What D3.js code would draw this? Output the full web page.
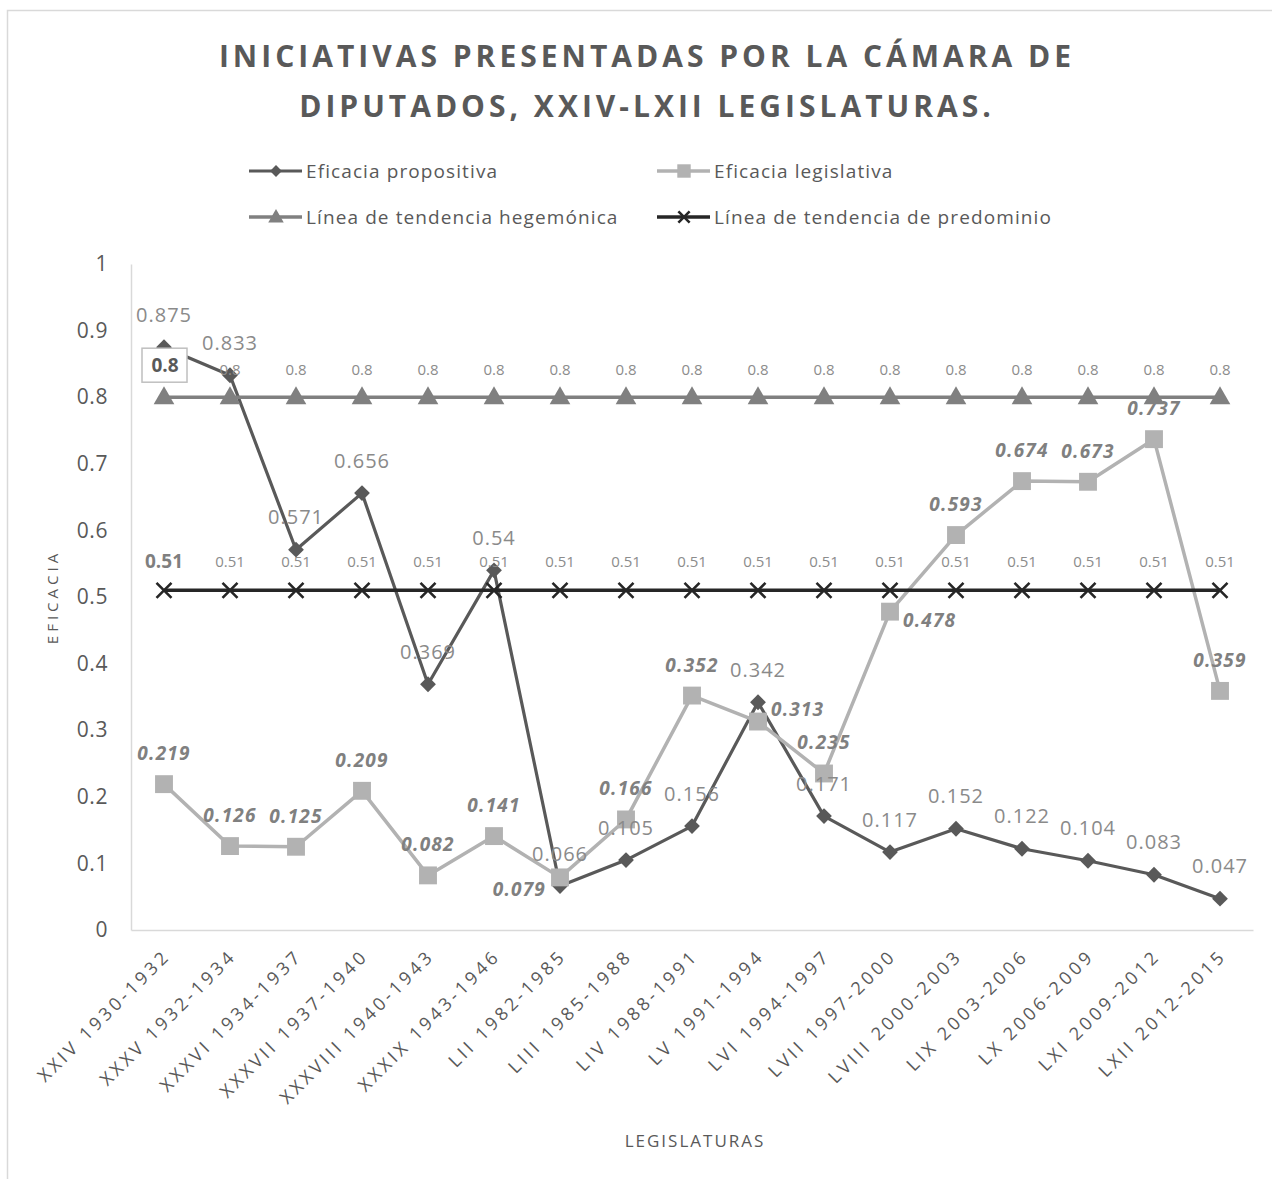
<!DOCTYPE html>
<html>
<head>
<meta charset="utf-8">
<script src="https://cdn.jsdelivr.net/npm/d3@7"></script>
<style>
  body { margin: 0; background: #fff; }
  text { font-family: "Open Sans", sans-serif; }
</style>
</head>
<body>
<div id="chart"></div>
<script>
// data
var categories = ["XXIV 1930-1932", "XXXV 1932-1934", "XXXVI 1934-1937", "XXXVII 1937-1940",
  "XXXVIII 1940-1943", "XXXIX 1943-1946", "LII 1982-1985", "LIII 1985-1988", "LIV 1988-1991",
  "LV 1991-1994", "LVI 1994-1997", "LVII 1997-2000", "LVIII 2000-2003", "LIX 2003-2006",
  "LX 2006-2009", "LXI 2009-2012", "LXII 2012-2015"];
var propositiva = [0.875, 0.833, 0.571, 0.656, 0.369, 0.54, 0.066, 0.105, 0.156, 0.342,
  0.171, 0.117, 0.152, 0.122, 0.104, 0.083, 0.047];
var legislativa = [0.219, 0.126, 0.125, 0.209, 0.082, 0.141, 0.079, 0.166, 0.352, 0.313,
  0.235, 0.478, 0.593, 0.674, 0.673, 0.737, 0.359];
var hegemonica = [0.8, 0.8, 0.8, 0.8, 0.8, 0.8, 0.8, 0.8, 0.8, 0.8, 0.8, 0.8, 0.8, 0.8, 0.8, 0.8, 0.8];
var predominio = [0.51, 0.51, 0.51, 0.51, 0.51, 0.51, 0.51, 0.51, 0.51, 0.51, 0.51, 0.51, 0.51, 0.51, 0.51, 0.51, 0.51];
var yTicks = [0, 0.1, 0.2, 0.3, 0.4, 0.5, 0.6, 0.7, 0.8, 0.9, 1];
var seriesNames = ["Eficacia propositiva", "Eficacia legislativa",
  "Línea de tendencia hegemónica", "Línea de tendencia de predominio"];
var titleLines = ["INICIATIVAS PRESENTADAS POR LA CÁMARA DE", "DIPUTADOS, XXIV-LXII LEGISLATURAS."];

var W = 1272, H = 1179;
var plotLeft = 131, plotRight = 1253, plotTop = 264, plotBottom = 930;

var svg = d3.select("#chart").append("svg")
    .attr("width", W).attr("height", H);

// outer chart border
svg.append("rect")
    .attr("x", 7.5).attr("y", 10.5)
    .attr("width", W + 20).attr("height", H + 20)
    .attr("fill", "#fff").attr("stroke", "#d9d9d9").attr("stroke-width", 1.5);

var x = d3.scalePoint().domain(categories).range([plotLeft, plotRight]).padding(0.5);
var y = d3.scaleLinear().domain([0, 1]).range([plotBottom, plotTop]);

// title
svg.selectAll(".title").data(titleLines).enter().append("text")
    .attr("class", "title")
    .attr("x", 647).attr("y", function(d, i) { return 67 + i * 50; })
    .attr("text-anchor", "middle")
    .attr("font-size", 30).attr("font-weight", "bold")
    .attr("letter-spacing", 4)
    .attr("fill", "#595959")
    .text(function(d) { return d; });

// y axis
var yAxis = svg.append("g")
    .attr("transform", "translate(" + plotLeft + ",0)")
    .call(d3.axisLeft(y).tickValues(yTicks).tickSize(0).tickPadding(23)
      .tickFormat(function(d) { return String(+d.toFixed(1)); }));
yAxis.select(".domain").attr("stroke", "#d9d9d9").attr("stroke-width", 1.5);
yAxis.selectAll("text").attr("font-size", 21).attr("letter-spacing", 0.6)
    .attr("fill", "#595959").attr("font-family", "Open Sans");

// x axis
var xAxis = svg.append("g")
    .attr("transform", "translate(0," + plotBottom + ")")
    .call(d3.axisBottom(x).tickSize(0));
xAxis.select(".domain").attr("stroke", "#d9d9d9").attr("stroke-width", 1.5);
xAxis.selectAll("text")
    .attr("font-size", 18).attr("letter-spacing", 3.5)
    .attr("fill", "#595959").attr("font-family", "Open Sans")
    .attr("text-anchor", "end")
    .attr("dy", null).attr("y", null)
    .attr("dominant-baseline", "central")
    .attr("transform", "translate(2,22) rotate(-45)");

// axis titles
svg.append("text")
    .attr("transform", "translate(52,597) rotate(-90)")
    .attr("text-anchor", "middle").attr("dominant-baseline", "central")
    .attr("font-size", 15).attr("letter-spacing", 4)
    .attr("fill", "#595959").text("EFICACIA");
svg.append("text")
    .attr("x", 695).attr("y", 1140)
    .attr("text-anchor", "middle").attr("dominant-baseline", "central")
    .attr("font-size", 17).attr("letter-spacing", 2)
    .attr("fill", "#595959").text("LEGISLATURAS");

// markers
var diamond = d3.symbol().type(d3.symbolSquare);
var square = d3.symbol().type(d3.symbolSquare);
var triangle = d3.symbol().type(d3.symbolTriangle);
function xMark(r) {
  return "M" + (-r) + "," + (-r) + "L" + r + "," + r + "M" + (-r) + "," + r + "L" + r + "," + (-r);
}

var line = d3.line()
    .x(function(d, i) { return x(categories[i]); })
    .y(function(d) { return y(d); });

var series = [
  { values: propositiva, color: "#595959", width: 3.2, marker: "diamond" },
  { values: legislativa, color: "#b2b2b2", width: 3.5, marker: "square" },
  { values: hegemonica, color: "#808080", width: 3.5, marker: "triangle" },
  { values: predominio, color: "#262626", width: 3.5, marker: "x" }
];

function drawMarker(g, s, scale) {
  scale = scale || 1;
  if (s.marker === "diamond") {
    g.append("path").attr("d", diamond.size(125 * scale * scale)).attr("transform", "rotate(45)").attr("fill", s.color);
  } else if (s.marker === "square") {
    g.append("path").attr("d", square.size(320 * scale * scale)).attr("fill", s.color);
  } else if (s.marker === "triangle") {
    g.append("path").attr("d", triangle.size(185 * scale * scale)).attr("transform", "translate(0,1)").attr("fill", s.color);
  } else {
    g.append("path").attr("d", xMark(7.5 * scale)).attr("stroke", s.color)
      .attr("stroke-width", 2.6).attr("fill", "none");
  }
}

series.forEach(function(s) {
  svg.append("path")
      .datum(s.values)
      .attr("d", line)
      .attr("fill", "none")
      .attr("stroke", s.color)
      .attr("stroke-width", s.width)
      .attr("stroke-linejoin", "round");
  svg.selectAll(null)
      .data(s.values)
      .enter().append("g")
      .attr("transform", function(d, i) { return "translate(" + x(categories[i]) + "," + y(d) + ")"; })
      .each(function() { drawMarker(d3.select(this), s); });
});

// data labels
var labels = svg.append("g");

// Eficacia propositiva: above
labels.selectAll(null).data(propositiva).enter().append("text")
    .attr("x", function(d, i) { return x(categories[i]); })
    .attr("y", function(d) { return y(d) - 33; })
    .attr("text-anchor", "middle").attr("dominant-baseline", "central")
    .attr("font-size", 20).attr("letter-spacing", 1)
    .attr("fill", "#8a8a8a")
    .text(function(d) { return String(d); });

// Eficacia legislativa: mostly above, a few moved aside
var legisSide = { 6: "left", 9: "right", 11: "right" };
labels.selectAll(null).data(legislativa).enter().append("text")
    .attr("x", function(d, i) {
      var cx = x(categories[i]);
      if (legisSide[i] === "left") return cx - 14;
      if (legisSide[i] === "right") return cx + 13;
      return cx;
    })
    .attr("y", function(d, i) {
      if (legisSide[i] === "left") return y(d) + 12;
      if (legisSide[i] === "right") return y(d) + (i === 9 ? -13 : 8);
      return y(d) - 31;
    })
    .attr("text-anchor", function(d, i) {
      if (legisSide[i] === "left") return "end";
      if (legisSide[i] === "right") return "start";
      return "middle";
    })
    .attr("dominant-baseline", "central")
    .attr("font-size", 19).attr("font-weight", "bold").attr("font-style", "italic")
    .attr("letter-spacing", 1.2)
    .attr("fill", "#808080")
    .text(function(d) { return String(d); });

// hegemonic labels: small, the first one bold in a box
labels.selectAll(null).data(hegemonica.slice(1)).enter().append("text")
    .attr("x", function(d, i) { return x(categories[i + 1]); })
    .attr("y", function(d) { return y(d) - 28; })
    .attr("text-anchor", "middle").attr("dominant-baseline", "central")
    .attr("font-size", 15).attr("fill", "#8c8c8c")
    .text(function(d) { return String(d); });
labels.append("rect")
    .attr("x", x(categories[0]) - 22).attr("y", y(hegemonica[0]) - 49)
    .attr("width", 45).attr("height", 34)
    .attr("fill", "#fff").attr("stroke", "#bfbfbf").attr("stroke-width", 1.5);
labels.append("text")
    .attr("x", x(categories[0]) + 1).attr("y", y(hegemonica[0]) - 32)
    .attr("text-anchor", "middle").attr("dominant-baseline", "central")
    .attr("font-size", 19).attr("font-weight", "bold").attr("fill", "#595959")
    .text(String(hegemonica[0]));

// predominio labels
labels.selectAll(null).data(predominio).enter().append("text")
    .attr("x", function(d, i) { return x(categories[i]); })
    .attr("y", function(d) { return y(d) - 29; })
    .attr("text-anchor", "middle").attr("dominant-baseline", "central")
    .attr("font-size", function(d, i) { return i === 0 ? 19 : 15; })
    .attr("font-weight", function(d, i) { return i === 0 ? "bold" : "normal"; })
    .attr("fill", function(d, i) { return i === 0 ? "#7f7f7f" : "#8c8c8c"; })
    .text(function(d) { return String(d); });

// legend
var legendPos = [[249, 171], [657, 171], [249, 217], [657, 217]];
series.forEach(function(s, i) {
  var g = svg.append("g").attr("transform", "translate(" + legendPos[i][0] + "," + legendPos[i][1] + ")");
  g.append("line").attr("x1", 0).attr("x2", 53).attr("y1", 0).attr("y2", 0)
      .attr("stroke", s.color).attr("stroke-width", s.width);
  var m = g.append("g").attr("transform", "translate(27,0)");
  drawMarker(m, s, 0.75);
  g.append("text").attr("x", 57).attr("y", 0)
      .attr("dominant-baseline", "central")
      .attr("font-size", 19).attr("letter-spacing", 1.1)
      .attr("fill", "#595959").text(seriesNames[i]);
});
</script>
</body>
</html>
